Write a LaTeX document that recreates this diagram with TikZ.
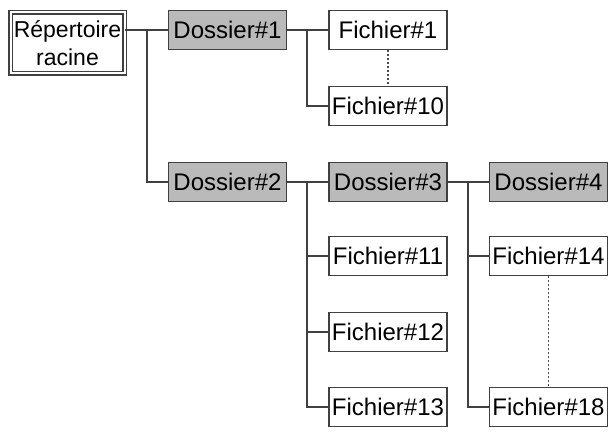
\documentclass[tikz,border=0pt]{standalone}
\usepackage{fontspec}
\setmainfont{Liberation Sans}
\begin{document}
\begin{tikzpicture}[x=0.5pt,y=-0.5pt,font=\fontsize{12}{14}\selectfont,
  line width=0.7pt,
  file/.style={draw=black!75,fill=white,align=center,inner sep=0pt,
               minimum width=59pt,minimum height=19.5pt},
  folder/.style={file,fill=black!27},
  root/.style={draw=black!75,double,double distance=1pt,align=center,
               inner sep=0pt,minimum width=57pt,minimum height=30.5pt,
               font=\fontsize{11.5}{14}\selectfont},
  link/.style={draw=black!75},
  gap/.style={draw=black!70,line width=0.6pt,dash pattern=on 1pt off 1pt}]
  \useasboundingbox (0,0) rectangle (615,437);
  \node[root] (rep) at (67.5,43) {Répertoire\\racine};
  \node[folder] (d1) at (227.5,30)  {Dossier\#1};
  \node[folder] (d2) at (227.5,182) {Dossier\#2};
  \node[file] (f1)  at (388,30)  {Fichier\#1};
  \node[file] (f10) at (388,106) {Fichier\#10};
  \node[folder] (d3) at (388,182) {Dossier\#3};
  \node[file] (f11) at (388,256) {Fichier\#11};
  \node[file] (f12) at (388,332) {Fichier\#12};
  \node[file] (f13) at (388,407) {Fichier\#13};
  \node[folder] (d4) at (548.5,182) {Dossier\#4};
  \node[file] (f14) at (548.5,256) {Fichier\#14};
  \node[file] (f18) at (548.5,407) {Fichier\#18};
  \coordinate (j0) at (147,30);
  \coordinate (j1) at (307,30);
  \coordinate (j2) at (307,182);
  \coordinate (j3) at (468,182);
  \draw[link] (rep.east |- d1) -- (d1.west);
  \draw[link] (j0) |- (d2.west);
  \draw[link] (d1) -- (f1);
  \draw[link] (j1) |- (f10.west);
  \draw[link] (d2) -- (d3);
  \draw[link] (j2) |- (f11.west);
  \draw[link] (j2) |- (f12.west);
  \draw[link] (j2) |- (f13.west);
  \draw[link] (d3) -- (d4);
  \draw[link] (j3) |- (f14.west);
  \draw[link] (j3) |- (f18.west);
  \draw[gap] (f1) -- (f10);
  \draw[gap] (f14) -- (f18);
\end{tikzpicture}
\end{document}
